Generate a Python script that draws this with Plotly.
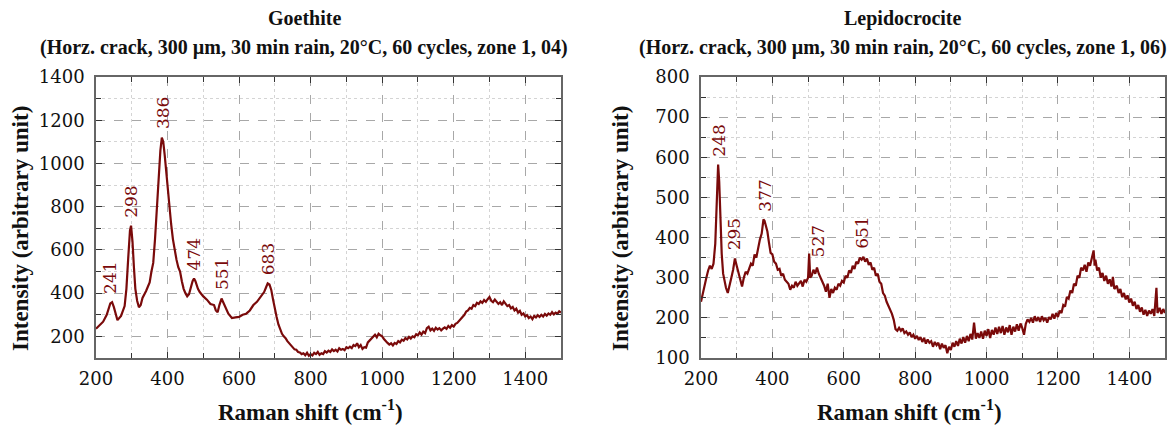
import plotly.graph_objects as go

# Goethite spectrum (Raman shift cm-1, intensity)
goe_x_low = [200, 210, 220, 230, 240, 245, 250, 260, 270, 280, 285, 290, 295, 298, 302, 306, 310, 315, 320, 325,
             330, 340, 350, 355, 360, 365, 370, 375, 380, 384, 388, 392, 396, 400, 405, 410, 415, 420, 425, 430,
             435, 440, 445, 450, 455, 460, 465, 470, 474, 478, 485, 490, 500, 510, 520, 530, 535, 540, 545, 551,
             555, 560, 565, 570, 575, 580, 590, 600, 610, 620, 630, 640, 650, 660, 670, 675, 680, 685, 690, 695]
goe_y_low = [235, 250, 268, 300, 352, 358, 335, 275, 295, 340, 420, 560, 690, 712, 640, 520, 420, 365, 335, 345,
             378, 410, 450, 500, 540, 650, 790, 930, 1060, 1120, 1100, 1040, 960, 880, 800, 720, 650, 590, 555, 520,
             500, 455, 420, 400, 385, 395, 430, 455, 468, 455, 420, 405, 385, 370, 350, 345, 320, 312, 345, 375,
             360, 340, 320, 305, 295, 285, 288, 290, 300, 305, 320, 345, 360, 385, 405, 425, 445, 440, 415, 370]
goe_x_high = [700, 705, 710, 715, 720, 725, 730, 735, 740, 745, 750, 755, 760, 765, 770, 775, 780, 785, 790, 795,
              800, 805, 810, 815, 820, 825, 830, 835, 840, 845, 850, 855, 860, 865, 870, 875, 880, 885, 890, 895,
              900, 905, 910, 915, 920, 925, 930, 935, 940, 945, 950, 955, 960, 965, 970, 975, 980, 985, 990, 995,
              1000, 1005, 1010, 1015, 1020, 1025, 1030, 1035, 1040, 1045, 1050, 1055, 1060, 1065, 1070, 1075, 1080, 1085, 1090, 1095,
              1100, 1105, 1110, 1115, 1120, 1125, 1130, 1135, 1140, 1145, 1150, 1155, 1160, 1165, 1170, 1175, 1180, 1185, 1190, 1195,
              1200, 1205, 1210, 1215, 1220, 1225, 1230, 1235, 1240, 1245, 1250, 1255, 1260, 1265, 1270, 1275, 1280, 1285, 1290, 1295,
              1300, 1305, 1310, 1315, 1320, 1325, 1330, 1335, 1340, 1345, 1350, 1355, 1360, 1365, 1370, 1375, 1380, 1385, 1390, 1395,
              1400, 1405, 1410, 1415, 1420, 1425, 1430, 1435, 1440, 1445, 1450, 1455, 1460, 1465, 1470, 1475, 1480, 1485, 1490, 1495,
              1500]
goe_y_high = [320, 290, 255, 228, 212, 200, 192, 178, 168, 160, 152, 140, 138, 128, 126, 118, 122, 113, 124, 110,
              118, 112, 124, 118, 128, 115, 122, 118, 132, 125, 134, 128, 140, 132, 138, 130, 145, 138, 142, 136,
              150, 145, 152, 146, 160, 155, 168, 150, 160, 142, 150, 148, 172, 180, 192, 200, 208, 196, 212, 205,
              200, 188, 176, 170, 162, 168, 158, 170, 165, 178, 172, 185, 180, 192, 186, 198, 190, 200, 196, 210,
              205, 218, 208, 222, 215, 238, 245, 228, 236, 226, 240, 232, 238, 228, 236, 242, 235, 248, 240, 252,
              245, 258, 262, 272, 278, 292, 300, 315, 320, 332, 328, 345, 340, 355, 350, 362, 355, 368, 360, 372,
              382, 365, 358, 370, 362, 350, 358, 345, 362, 348, 340, 345, 330, 336, 320, 328, 310, 318, 300, 306,
              292, 298, 285, 292, 280, 295, 288, 298, 290, 300, 292, 304, 296, 306, 300, 312, 302, 310, 305, 316,
              310]
goe_peaks = [241, 298, 386, 474, 551, 683]
goe_peak_y = [358, 712, 1120, 468, 375, 445]

# Lepidocrocite spectrum
lep_x_low = [200, 205, 210, 215, 220, 225, 230, 235, 240, 244, 248, 251, 254, 258, 262, 266, 270, 275, 280, 285,
             290, 295, 300, 305, 310, 315, 320, 325, 330, 335, 340, 345, 350, 355, 360, 365, 370, 375, 378, 382,
             386, 390, 395, 400, 405, 410, 415, 420, 425, 430, 435, 440, 445, 450, 455, 460, 465, 470, 475, 480,
             485, 490, 495, 500, 503, 506, 510, 515, 520, 525, 530, 535, 540, 545, 550, 555, 560, 565, 570, 575,
             580, 585, 590, 595, 600, 605, 610, 615, 620, 625, 630, 635, 640, 645, 650, 655, 660, 665, 670, 675,
             680, 685, 690, 695]
lep_y_low = [240, 262, 285, 300, 318, 330, 322, 335, 385, 480, 582, 540, 450, 360, 310, 290, 275, 262, 285, 300,
             320, 348, 330, 310, 295, 278, 300, 315, 310, 325, 335, 330, 358, 350, 375, 395, 410, 445, 442, 430,
             415, 390, 362, 358, 340, 335, 320, 322, 305, 310, 295, 290, 285, 270, 280, 275, 290, 280, 285, 292,
             278, 295, 290, 300, 360, 300, 305, 320, 310, 325, 310, 300, 290, 280, 265, 285, 250, 272, 262, 275,
             270, 285, 280, 292, 288, 305, 300, 318, 312, 330, 322, 340, 335, 350, 345, 352, 340, 348, 332, 338,
             320, 325, 305, 310]
lep_x_high = [700, 705, 710, 715, 720, 725, 730, 735, 740, 745, 750, 755, 760, 765, 770, 775, 780, 785, 790, 795,
              800, 805, 810, 815, 820, 825, 830, 835, 840, 845, 850, 855, 860, 865, 870, 875, 880, 885, 890, 895,
              900, 905, 910, 915, 920, 925, 930, 935, 940, 945, 950, 955, 960, 965, 970, 975, 980, 985, 990, 995,
              1000, 1005, 1010, 1015, 1020, 1025, 1030, 1035, 1040, 1045, 1050, 1055, 1060, 1065, 1070, 1075, 1080, 1085, 1090, 1095,
              1100, 1105, 1110, 1115, 1120, 1125, 1130, 1135, 1140, 1145, 1150, 1155, 1160, 1165, 1170, 1175, 1180, 1185, 1190, 1195,
              1200, 1205, 1210, 1215, 1220, 1225, 1230, 1235, 1240, 1245, 1250, 1255, 1260, 1265, 1270, 1275, 1280, 1285, 1290, 1295,
              1300, 1303, 1305, 1310, 1315, 1320, 1325, 1330, 1335, 1340, 1345, 1350, 1354, 1358, 1365, 1370, 1375, 1380, 1385, 1390,
              1395, 1400, 1405, 1410, 1415, 1420, 1425, 1430, 1435, 1440, 1445, 1450, 1455, 1460, 1465, 1470, 1476, 1479, 1485, 1490,
              1495, 1500]
lep_y_high = [290, 285, 262, 255, 240, 230, 218, 210, 195, 172, 168, 175, 168, 174, 162, 166, 158, 164, 152, 158,
              148, 155, 145, 152, 140, 150, 136, 146, 138, 142, 128, 140, 132, 138, 122, 136, 125, 132, 112, 128,
              120, 138, 128, 142, 130, 148, 136, 152, 138, 155, 142, 160, 146, 188, 148, 162, 150, 166, 148, 168,
              155, 172, 150, 170, 158, 176, 160, 178, 162, 180, 158, 176, 164, 182, 158, 178, 166, 184, 168, 186,
              175, 158, 185, 196, 190, 200, 188, 204, 192, 202, 190, 204, 194, 200, 188, 202, 196, 210, 198, 212,
              202, 218, 212, 232, 228, 252, 248, 268, 262, 285, 280, 305, 300, 325, 318, 332, 315, 338, 330, 348,
              368, 330, 345, 318, 325, 300, 312, 292, 305, 285, 296, 278, 302, 272, 280, 262, 272, 252, 262, 246,
              256, 238, 248, 230, 240, 222, 232, 215, 226, 208, 220, 205, 218, 210, 222, 205, 275, 212, 225, 210,
              222, 212]
lep_peaks = [248, 295, 377, 527, 651]
lep_peak_y = [582, 348, 445, 330, 352]

# the page is drawn with an 8 px body margin, so positions below are reference pixels minus 8
W, H = 1167, 424
red = "#7a0a0a"
serif = "DejaVu Serif"
tserif = "Liberation Serif"

fig = go.Figure()
fig.add_trace(go.Scatter(x=goe_x_low + goe_x_high, y=goe_y_low + goe_y_high, mode="lines",
                         line=dict(color=red, width=2.2), xaxis="x", yaxis="y", showlegend=False))
fig.add_trace(go.Scatter(x=lep_x_low + lep_x_high, y=lep_y_low + lep_y_high, mode="lines",
                         line=dict(color=red, width=2.2), xaxis="x2", yaxis="y2", showlegend=False))


def xaxis_style(domain, anchor):
    return dict(domain=domain, anchor=anchor, range=[200, 1500], dtick=200, tick0=200,
                ticks="inside", ticklen=6, tickcolor="#333", mirror="allticks",
                showline=True, linecolor="#666", linewidth=1.5, automargin=False,
                showgrid=True, gridcolor="#a8a8a8", griddash="dash", gridwidth=1,
                minor=dict(dtick=100, ticks="inside", ticklen=5, tickcolor="#333",
                           showgrid=True, gridcolor="#d4d4d4", griddash="dot"),
                tickfont=dict(family=serif, size=18, color="#111"), zeroline=False,
                ticklabelstandoff=4)


def yaxis_style(domain, anchor, rng, step, minor):
    return dict(domain=domain, anchor=anchor, range=rng, dtick=step, tick0=0,
                ticks="inside", ticklen=6, tickcolor="#333", mirror="allticks",
                showline=True, linecolor="#666", linewidth=1.5, automargin=False,
                showgrid=True, gridcolor="#a8a8a8", griddash="dash", gridwidth=1,
                minor=dict(dtick=minor, ticks="inside", ticklen=5, tickcolor="#333",
                           showgrid=True, gridcolor="#d4d4d4", griddash="dot"),
                tickfont=dict(family=serif, size=18, color="#111"), zeroline=False,
                ticklabelstandoff=6)


ydom = [(H - 350) / H, (H - 69) / H]
fig.update_layout(
    width=W, height=H, margin=dict(l=0, r=0, t=0, b=0, autoexpand=False),
    paper_bgcolor="white", plot_bgcolor="white",
    xaxis=xaxis_style([88 / W, 553 / W], "y"),
    yaxis=yaxis_style(ydom, "x", [100, 1400], 200, 100),
    xaxis2=xaxis_style([693 / W, 1157 / W], "y2"),
    yaxis2=yaxis_style(ydom, "x2", [100, 800], 100, 50),
)

ann = []
# peak labels
for px, py in zip(goe_peaks, goe_peak_y):
    ann.append(dict(x=px, y=py, xref="x", yref="y", text=str(px), showarrow=False, textangle=-90,
                    xanchor="center", yanchor="bottom", yshift=6,
                    font=dict(family=serif, size=17, color=red)))
for px, py in zip(lep_peaks, lep_peak_y):
    ann.append(dict(x=px, y=py, xref="x2", yref="y2", text=str(px), showarrow=False, textangle=-90,
                    xanchor="center", yanchor="bottom", yshift=6,
                    font=dict(family=serif, size=17, color=red)))

# titles and axis titles
titles = [
    (296, "Goethite", "(Horz. crack, 300 µm, 30 min rain, 20°C, 60 cycles, zone 1, 04)", 12),
    (895, "Lepidocrocite", "(Horz. crack, 300 µm, 30 min rain, 20°C, 60 cycles, zone 1, 06)", 612),
]
for cx, name, sub, ytx in titles:
    ann.append(dict(x=cx / W, y=1 - 10 / H, xref="paper", yref="paper", text="<b>" + name + "</b>",
                    xanchor="center", yanchor="middle",
                    showarrow=False, font=dict(family=tserif, size=20, color="#111")))
    ann.append(dict(x=cx / W, y=1 - 40 / H, xref="paper", yref="paper", text="<b>" + sub + "</b>",
                    xanchor="center", yanchor="middle",
                    showarrow=False, font=dict(family=tserif, size=20, color="#111")))
    ann.append(dict(x=(cx + 6) / W, y=1 - 402 / H, xref="paper", yref="paper",
                    text="<b>Raman shift (cm<sup>-1</sup>)</b>", xanchor="center", yanchor="middle",
                    showarrow=False, font=dict(family=tserif, size=23, color="#111")))
    ann.append(dict(x=ytx / W, y=1 - 221 / H, xref="paper", yref="paper", textangle=-90,
                    text="<b>Intensity (arbitrary unit)</b>", xanchor="center", yanchor="middle",
                    showarrow=False, font=dict(family=tserif, size=23, color="#111")))

fig.update_layout(annotations=ann)
fig.write_html("out.html")
